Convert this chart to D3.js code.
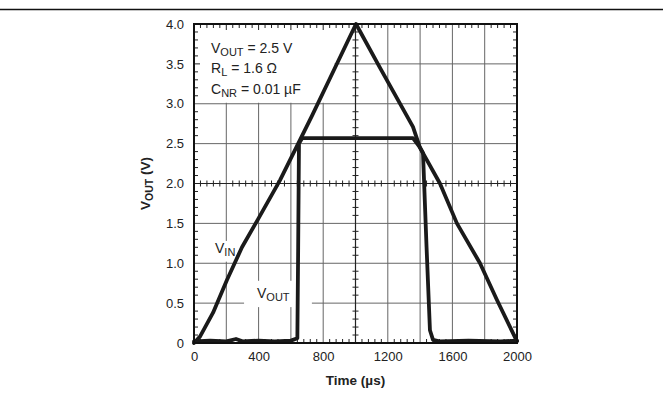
<!DOCTYPE html>
<html>
<head>
<meta charset="utf-8">
<script src="https://cdn.jsdelivr.net/npm/d3@7"></script>
<style>
  body { margin: 0; background: #fff; }
  text { font-family: "Liberation Sans", Arial, sans-serif; fill: #222; }
</style>
</head>
<body>
<script>
// values
const vinTime = [0, 37, 118, 204, 297, 396, 532, 731, 842, 1003, 1152, 1356, 1399, 1523, 1628, 1771, 1876, 2000];
const vinVolts = [0, 0.08, 0.38, 0.79, 1.2, 1.55, 2.04, 2.85, 3.32, 4.0, 3.45, 2.71, 2.45, 2.0, 1.5, 1.0, 0.54, 0.02];

const voutTime = [0, 100, 200, 260, 300, 400, 500, 600, 640, 645, 650, 670, 900, 1200, 1356, 1400, 1418, 1440, 1461, 1480, 1520, 1700, 1900, 2000];
const voutVolts = [0.02, 0.03, 0.02, 0.05, 0.02, 0.03, 0.02, 0.03, 0.06, 1.2, 2.5, 2.57, 2.57, 2.57, 2.57, 2.45, 2.38, 1.2, 0.16, 0.04, 0.02, 0.03, 0.02, 0.03];

const xTicks = [0, 400, 800, 1200, 1600, 2000];
const yTicks = [0, 0.5, 1.0, 1.5, 2.0, 2.5, 3.0, 3.5, 4.0];

const w = 663, h = 400;
const pLeft = 194, pRight = 517, pTop = 24, pBottom = 343;

const svg = d3.select('body').append('svg')
  .attr('width', w)
  .attr('height', h);

// header rule
svg.append('line')
  .attr('x1', 0).attr('x2', w)
  .attr('y1', 9.5).attr('y2', 9.5)
  .attr('stroke', '#111').attr('stroke-width', 1.5);

const x = d3.scaleLinear().domain([0, 2000]).range([pLeft, pRight]);
const y = d3.scaleLinear().domain([0, 4]).range([pBottom, pTop]);

// grid
svg.append('g').selectAll('line')
  .data(d3.range(200, 2000, 200).filter(d => d !== 1000))
  .enter().append('line')
  .attr('x1', d => x(d)).attr('x2', d => x(d))
  .attr('y1', pTop).attr('y2', pBottom)
  .attr('stroke', '#666').attr('stroke-width', 1);

svg.append('g').selectAll('line')
  .data(d3.range(0.5, 4, 0.5).filter(d => d !== 2))
  .enter().append('line')
  .attr('x1', pLeft).attr('x2', pRight)
  .attr('y1', d => y(d)).attr('y2', d => y(d))
  .attr('stroke', '#666').attr('stroke-width', 1);

// white boxes behind the labels (they blank the grid)
svg.append('rect')
  .attr('x', pLeft).attr('y', pTop)
  .attr('width', x(870) - pLeft).attr('height', y(3) - pTop - 1)
  .attr('fill', '#fff');
svg.append('rect')
  .attr('x', x(110)).attr('y', y(1.28))
  .attr('width', x(280) - x(110)).attr('height', y(1.02) - y(1.28))
  .attr('fill', '#fff');
svg.append('rect')
  .attr('x', x(310)).attr('y', y(0.78))
  .attr('width', x(730) - x(310)).attr('height', y(0.45) - y(0.78))
  .attr('fill', '#fff');

// centre lines
svg.append('line')
  .attr('x1', x(1000)).attr('x2', x(1000))
  .attr('y1', pTop).attr('y2', pBottom)
  .attr('stroke', '#222').attr('stroke-width', 1.2);
svg.append('line')
  .attr('x1', pLeft).attr('x2', pRight)
  .attr('y1', y(2)).attr('y2', y(2))
  .attr('stroke', '#222').attr('stroke-width', 1.2);

// minor ticks
const minorX = d3.range(40, 2000, 40).filter(d => d % 200 !== 0);
const minorY = d3.range(1, 40).map(d => d / 10).filter(d => Math.round(d * 10) % 5 !== 0);
const ticks = svg.append('g').attr('stroke', '#222').attr('stroke-width', 1);

minorX.forEach(function(d) {
  ticks.append('line').attr('x1', x(d)).attr('x2', x(d)).attr('y1', pTop).attr('y2', pTop + 4);
  ticks.append('line').attr('x1', x(d)).attr('x2', x(d)).attr('y1', pBottom).attr('y2', pBottom - 4);
  ticks.append('line').attr('x1', x(d)).attr('x2', x(d)).attr('y1', y(2) - 3).attr('y2', y(2) + 3);
});
minorY.forEach(function(d) {
  ticks.append('line').attr('x1', pLeft).attr('x2', pLeft + 4).attr('y1', y(d)).attr('y2', y(d));
  ticks.append('line').attr('x1', pRight).attr('x2', pRight - 4).attr('y1', y(d)).attr('y2', y(d));
  ticks.append('line').attr('x1', x(1000) - 3).attr('x2', x(1000) + 3).attr('y1', y(d)).attr('y2', y(d));
});
// major grid stubs on the frame where the box blanks them
[200, 400, 600, 800].forEach(function(d) {
  ticks.append('line').attr('x1', x(d)).attr('x2', x(d)).attr('y1', pTop).attr('y2', pTop + 6);
});
ticks.append('line').attr('x1', pLeft).attr('x2', pLeft + 6).attr('y1', y(3.5)).attr('y2', y(3.5));

// traces
const line = d3.line()
  .x(d => x(d[0]))
  .y(d => y(d[1]));

svg.append('path')
  .datum(d3.zip(vinTime, vinVolts))
  .attr('d', line)
  .attr('fill', 'none')
  .attr('stroke', '#1a1a1a')
  .attr('stroke-width', 3.8)
  .attr('stroke-linejoin', 'round')
  .attr('stroke-linecap', 'round');

svg.append('path')
  .datum(d3.zip(voutTime, voutVolts))
  .attr('d', line)
  .attr('fill', 'none')
  .attr('stroke', '#1a1a1a')
  .attr('stroke-width', 3.8)
  .attr('stroke-linejoin', 'round')
  .attr('stroke-linecap', 'round');

// frame
svg.append('rect')
  .attr('x', pLeft).attr('y', pTop)
  .attr('width', pRight - pLeft).attr('height', pBottom - pTop)
  .attr('fill', 'none')
  .attr('stroke', '#111').attr('stroke-width', 2);

// axes labels
const xAxis = d3.axisBottom(x).tickValues(xTicks).tickSize(0).tickPadding(6).tickFormat(d3.format('d'));
svg.append('g')
  .attr('transform', 'translate(0,' + pBottom + ')')
  .call(xAxis)
  .call(g => g.select('.domain').remove())
  .selectAll('text')
  .attr('font-size', 13)
  .attr('dy', '0.95em')
  .style('font-family', '"Liberation Sans", Arial, sans-serif')
  .attr('fill', '#222');

const yAxis = d3.axisLeft(y).tickValues(yTicks).tickSize(0).tickPadding(10)
  .tickFormat(d => d === 0 ? '0' : d3.format('.1f')(d));
svg.append('g')
  .attr('transform', 'translate(' + pLeft + ',0)')
  .call(yAxis)
  .call(g => g.select('.domain').remove())
  .selectAll('text')
  .attr('font-size', 13)
  .style('font-family', '"Liberation Sans", Arial, sans-serif')
  .attr('fill', '#222');

svg.append('text')
  .attr('x', (pLeft + pRight) / 2)
  .attr('y', 385)
  .attr('text-anchor', 'middle')
  .attr('font-size', 13.5)
  .attr('font-weight', 'bold')
  .text('Time (µs)');

const yt = svg.append('text')
  .attr('transform', 'translate(150,' + y(2) + ') rotate(-90)')
  .attr('text-anchor', 'middle')
  .attr('font-size', 13.5)
  .attr('font-weight', 'bold');
yt.append('tspan').text('V');
yt.append('tspan').attr('font-size', 10.5).attr('dy', 3).text('OUT');
yt.append('tspan').attr('dy', -3).text(' (V)');

// annotations
function sub(xp, yp, main, subscript, rest) {
  const t = svg.append('text').attr('x', xp).attr('y', yp).attr('font-size', 14);
  t.append('tspan').text(main);
  t.append('tspan').attr('font-size', 11).attr('dy', 3).text(subscript);
  t.append('tspan').attr('dy', -3).text(rest);
}
sub(211, 53, 'V', 'OUT', ' = 2.5 V');
sub(211, 73, 'R', 'L', ' = 1.6 Ω');
sub(211, 94, 'C', 'NR', ' = 0.01 µF');
sub(215, 253, 'V', 'IN', '');
sub(257, 298, 'V', 'OUT', '');
</script>
</body>
</html>
